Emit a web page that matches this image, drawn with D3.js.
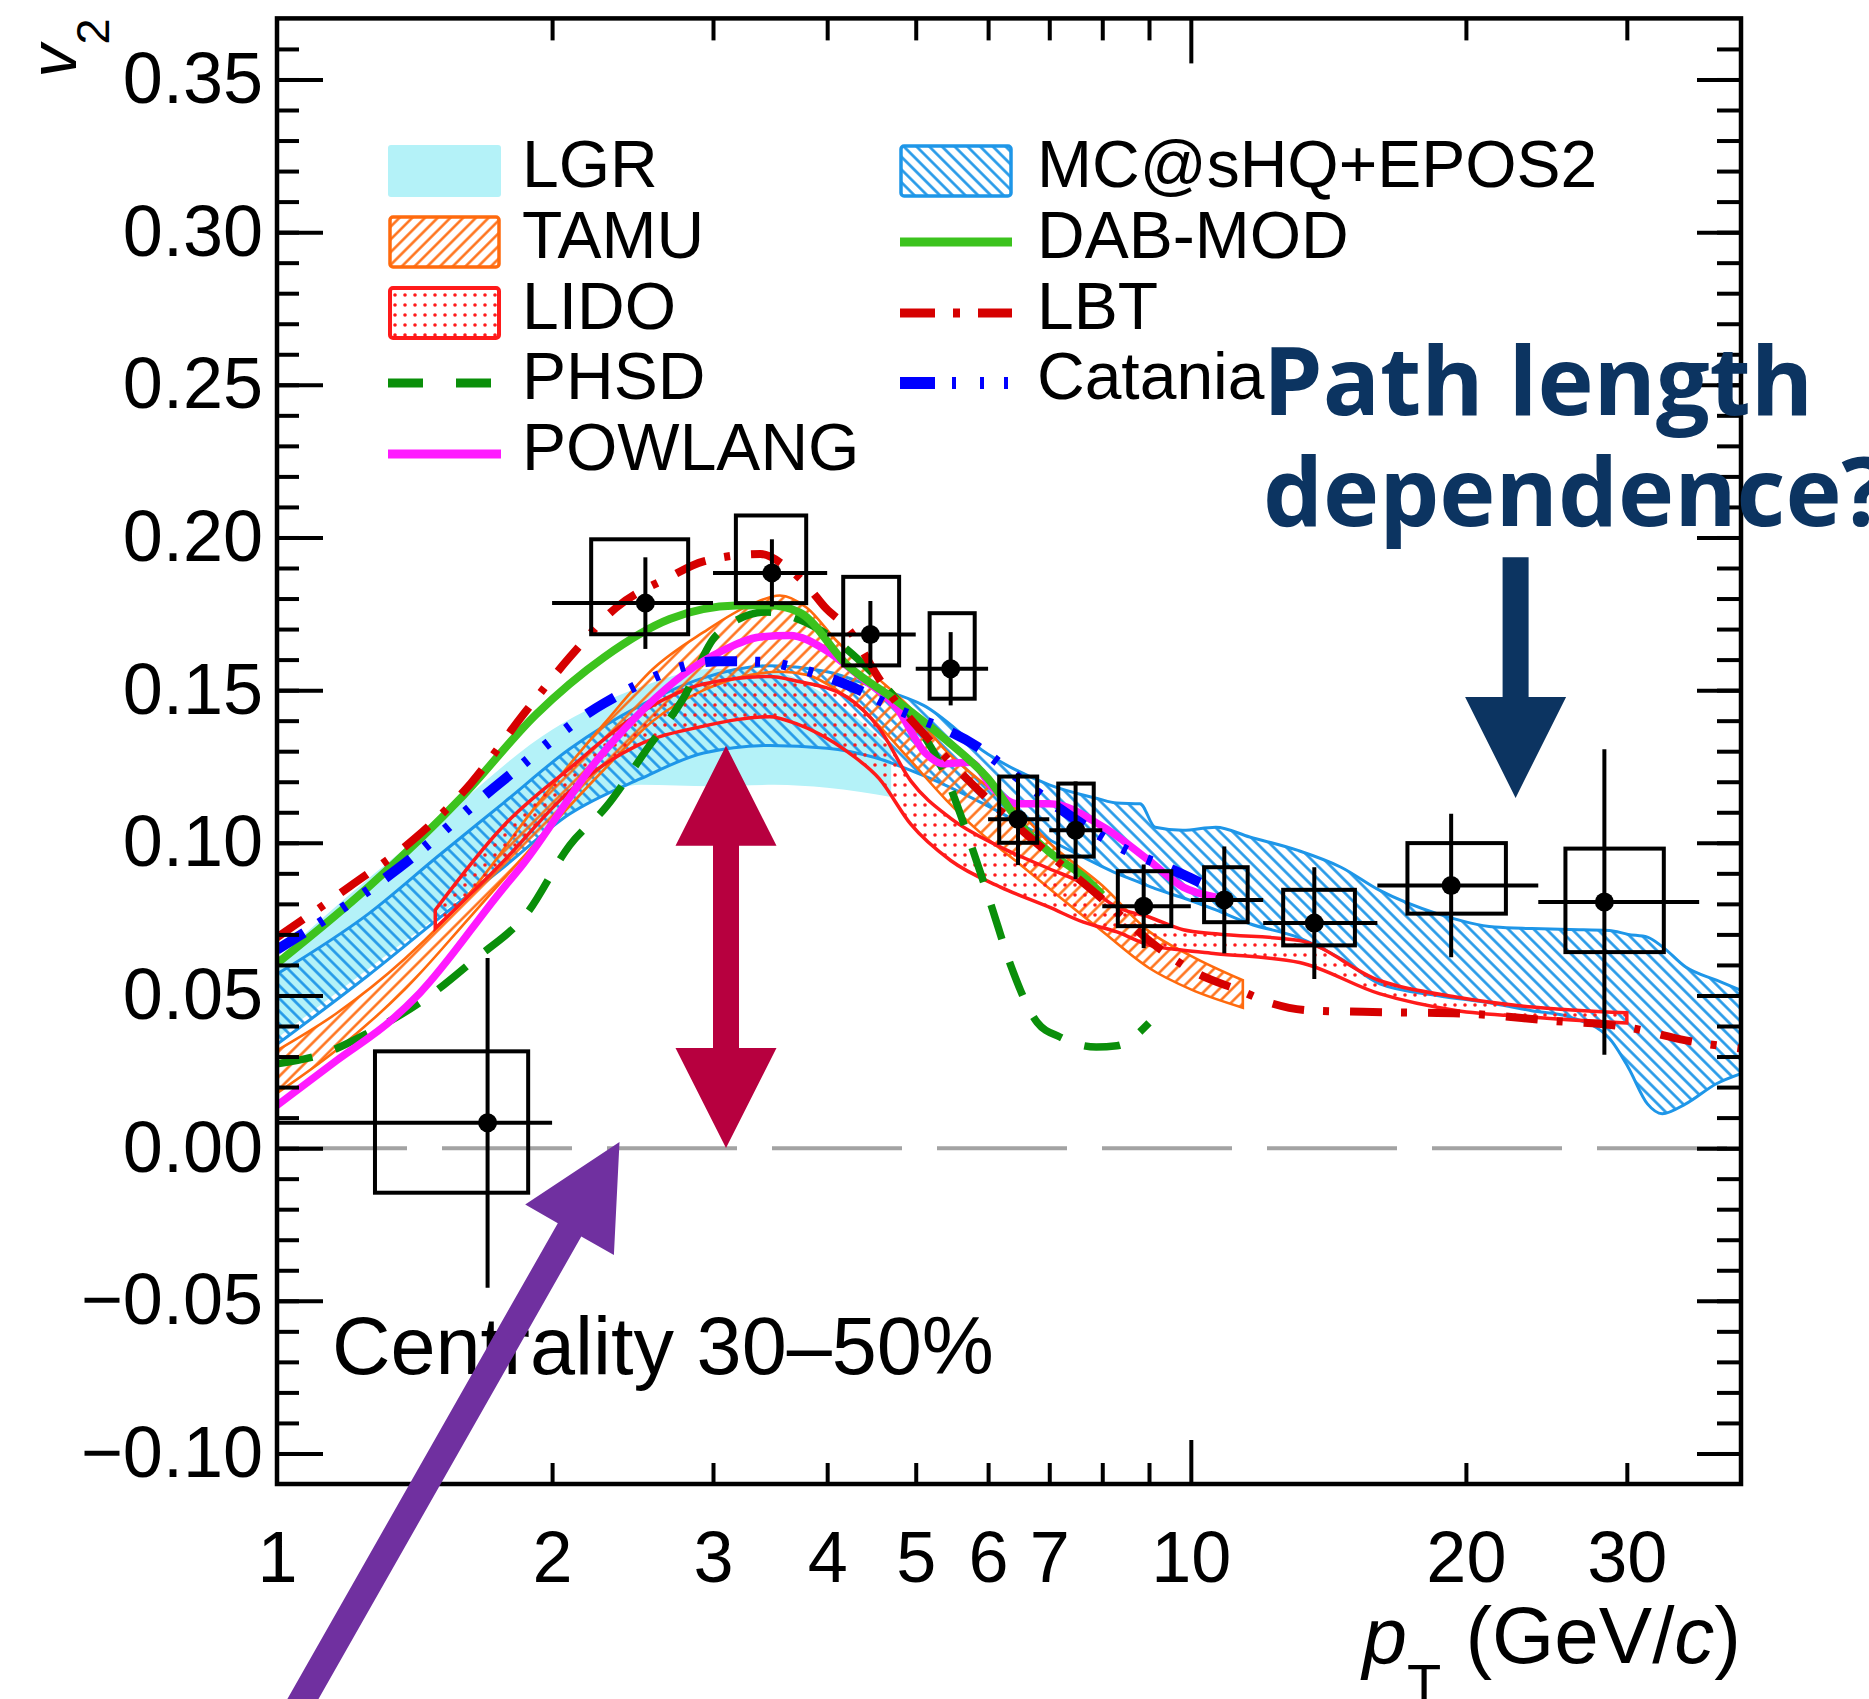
<!DOCTYPE html>
<html><head><meta charset="utf-8">
<script src="https://cdn.jsdelivr.net/npm/d3@7"></script>
<style>
html,body{margin:0;padding:0;background:#fff;}
svg{display:block;}
</style></head><body>
<svg id="chart" width="1869" height="1699"></svg>
<script>
// ---------------- DATA ----------------
const xTickLabels = [1, 2, 3, 4, 5, 6, 7, 10, 20, 30];
const xMinorTicks = [2, 3, 4, 5, 6, 7, 8, 9, 20, 30];
const xMajorTicks = [10];
const yTickLabels = [-0.10, -0.05, 0.00, 0.05, 0.10, 0.15, 0.20, 0.25, 0.30, 0.35];
const yMinorTicks = [-0.10,-0.09,-0.08,-0.07,-0.06,-0.05,-0.04,-0.03,-0.02,-0.01,0.00,0.01,0.02,0.03,0.04,0.05,0.06,0.07,0.08,0.09,0.10,0.11,0.12,0.13,0.14,0.15,0.16,0.17,0.18,0.19,0.20,0.21,0.22,0.23,0.24,0.25,0.26,0.27,0.28,0.29,0.30,0.31,0.32,0.33,0.34,0.35,0.36];

// measured D-meson v2 (30-50%)
const ptCenter = [1.70, 2.53, 3.48, 4.46, 5.46, 6.47, 7.48, 8.88, 10.88, 13.65, 19.27, 28.35];
const ptBinLo  = [1, 2, 3, 4, 5, 6, 7, 8, 10, 12, 16, 24];
const ptBinHi  = [2, 3, 4, 5, 6, 7, 8, 10, 12, 16, 24, 36];
const v2Value  = [0.0083, 0.1785, 0.1884, 0.1682, 0.1570, 0.1077, 0.1041, 0.0792, 0.0813, 0.0737, 0.0860, 0.0806];
const v2Stat   = [0.054, 0.015, 0.011, 0.011, 0.012, 0.015, 0.016, 0.0137, 0.0175, 0.0183, 0.0235, 0.050];
const sysXLo   = [1.28, 2.207, 3.178, 4.165, 5.178, 6.17, 7.16, 8.32, 10.34, 12.62, 17.26, 25.7];
const sysXHi   = [1.883, 2.818, 3.794, 4.795, 5.801, 6.79, 7.83, 9.52, 11.54, 15.12, 22.12, 32.93];
const sysLo    = [-0.0146, 0.1683, 0.1785, 0.1581, 0.1472, 0.1000, 0.0955, 0.0727, 0.0740, 0.0664, 0.0768, 0.0642];
const sysHi    = [0.0317, 0.1994, 0.2072, 0.1871, 0.1752, 0.1217, 0.1194, 0.0907, 0.0920, 0.0846, 0.0999, 0.0981];

// model bands
const lgrPt = [1.0, 1.2, 1.5, 2.0, 2.5, 3.0, 3.5, 4.0, 4.7];
const lgrLo = [0.036, 0.054, 0.076, 0.106, 0.119, 0.1185, 0.119, 0.118, 0.115];
const lgrHi = [0.062, 0.083, 0.107, 0.137, 0.151, 0.157, 0.156, 0.148, 0.131];

const mcPt = [1.0, 1.26, 1.5, 1.77, 2.09, 2.5, 2.93, 3.46, 4.0, 4.5, 5.1, 6.0, 7.0, 7.9, 8.3, 8.8, 9.14, 9.8, 10.65, 11.6, 13.1, 14.6, 16.1, 18.6, 21.5, 23.6, 26.0, 28.7, 30.1, 31.6, 32.8, 34.8, 37.6, 40.0];
const mcLo = [0.034, 0.0567, 0.075, 0.092, 0.1094, 0.121, 0.1294, 0.1319, 0.1310, 0.128, 0.122, 0.112, 0.101, 0.093, 0.090, 0.087, 0.085, 0.082, 0.078, 0.0735, 0.069, 0.062, 0.0538, 0.050, 0.0473, 0.045, 0.0429, 0.036, 0.0265, 0.0145, 0.0113, 0.0145, 0.0211, 0.0244];
const mcHi = [0.057, 0.0768, 0.0956, 0.1131, 0.1307, 0.145, 0.154, 0.158, 0.156, 0.151, 0.145, 0.129, 0.119, 0.1145, 0.113, 0.1128, 0.1051, 0.1041, 0.1051, 0.1019, 0.0975, 0.092, 0.0844, 0.0768, 0.0724, 0.0719, 0.0716, 0.0713, 0.0700, 0.0691, 0.066, 0.0593, 0.055, 0.0517];

const tamuPt = [1.0, 1.16, 1.38, 1.63, 1.92, 2.28, 2.58, 2.93, 3.3, 3.55, 3.8, 4.1, 4.5, 4.9, 5.4, 5.9, 6.5, 7.0, 8.0, 9.0, 10.0, 11.4];
const tamuLo = [0.018, 0.032, 0.052, 0.076, 0.100, 0.124, 0.140, 0.150, 0.155, 0.156, 0.155, 0.150, 0.140, 0.128, 0.114, 0.103, 0.093, 0.085, 0.071, 0.059, 0.052, 0.046];
const tamuHi = [0.032, 0.044, 0.062, 0.084, 0.112, 0.139, 0.157, 0.169, 0.178, 0.181, 0.177, 0.166, 0.155, 0.145, 0.130, 0.120, 0.110, 0.100, 0.086, 0.071, 0.063, 0.055];

const lidoPt = [1.49, 1.77, 2.09, 2.48, 2.93, 3.46, 3.7, 4.2, 4.56, 4.94, 5.46, 6.19, 7.0, 7.63, 8.3, 9.0, 9.81, 10.65, 13.15, 16.08, 19.5, 23.65, 30.0];
const lidoLo = [0.072, 0.094, 0.1169, 0.1319, 0.1382, 0.1413, 0.139, 0.130, 0.121, 0.106, 0.0942, 0.0855, 0.0789, 0.074, 0.0708, 0.0665, 0.0648, 0.0637, 0.0608, 0.0506, 0.0451, 0.0429, 0.0410];
const lidoHi = [0.078, 0.1056, 0.1244, 0.142, 0.152, 0.1545, 0.153, 0.1478, 0.1375, 0.1202, 0.108, 0.0986, 0.0915, 0.0866, 0.0789, 0.0757, 0.0715, 0.0702, 0.068, 0.0549, 0.0495, 0.0462, 0.0443];

// model curves
const phsdPt = [1.0, 1.124, 1.254, 1.47, 1.642, 1.876, 2.092, 2.294, 2.54, 2.78, 3.026, 3.43, 3.8, 4.49, 4.84, 5.38, 5.78, 6.04, 6.35, 6.79, 7.19, 7.88, 8.3, 9.0];
const phsdV  = [0.0276, 0.0309, 0.0375, 0.050, 0.0616, 0.0768, 0.0993, 0.1119, 0.1307, 0.147, 0.168, 0.1756, 0.172, 0.1554, 0.1444, 0.1225, 0.0972, 0.080, 0.060, 0.0412, 0.0364, 0.0331, 0.0335, 0.041];

const powPt = [1.0, 1.162, 1.34, 1.433, 1.753, 1.859, 2.237, 2.393, 2.927, 3.077, 3.378, 3.64, 3.99, 4.35, 4.76, 5.13, 5.36, 5.74, 6.07, 6.45, 7.0, 8.03, 9.0, 9.81, 10.65];
const powV  = [0.014, 0.0287, 0.0424, 0.0508, 0.0837, 0.093, 0.1269, 0.1369, 0.1595, 0.163, 0.1674, 0.1679, 0.163, 0.1543, 0.1444, 0.1292, 0.1259, 0.1264, 0.118, 0.1128, 0.1128, 0.1051, 0.0942, 0.0855, 0.0822];

const dabPt = [1.0, 1.26, 1.6, 1.92, 2.28, 2.69, 3.18, 3.46, 3.73, 4.21, 4.76, 5.38, 6.0, 6.6, 7.0, 7.69, 8.0];
const dabV  = [0.0605, 0.0856, 0.1156, 0.142, 0.1608, 0.1733, 0.1777, 0.1778, 0.1755, 0.1581, 0.1466, 0.134, 0.121, 0.104, 0.097, 0.0881, 0.083];

const lbtPt = [1.0, 1.2, 1.42, 1.63, 1.86, 2.09, 2.35, 2.69, 2.93, 3.38, 3.61, 3.80, 3.99, 4.2, 4.59, 5.34, 6.16, 7.01, 7.95, 9.16, 10.2, 11.3, 12.3, 13.5, 16.4, 20.1, 24.6, 30.0, 34.8, 40.0];
const lbtV  = [0.069, 0.0856, 0.1018, 0.1195, 0.142, 0.1607, 0.177, 0.1871, 0.1922, 0.1946, 0.1903, 0.1843, 0.1767, 0.1707, 0.1524, 0.1294, 0.111, 0.0961, 0.0823, 0.0662, 0.057, 0.0517, 0.0473, 0.0451, 0.0445, 0.044, 0.0418, 0.0396, 0.0353, 0.0326];

const catPt = [1.0, 1.36, 1.75, 2.28, 3.05, 3.43, 3.67, 4.30, 4.72, 5.85, 6.32, 7.2, 8.51, 9.41, 10.23];
const catV  = [0.065, 0.0918, 0.1194, 0.1457, 0.1595, 0.1592, 0.1575, 0.1505, 0.1444, 0.1313, 0.1237, 0.111, 0.0975, 0.092, 0.087];

// legend entries
const legendLeft  = ["LGR", "TAMU", "LIDO", "PHSD", "POWLANG"];
const legendRight = ["MC@sHQ+EPOS2", "DAB-MOD", "LBT", "Catania"];

// annotations (data coordinates)
const purpleArrow  = {tail: [0.98, -0.20], tip: [2.37, 0.002]};
const crimsonArrow = {pt: 3.1, lo: 0.0, hi: 0.1318};
const navyArrow    = {pt: 22.67, top: 0.1935, tip: 0.1147};
const noteLines = ["Path length", "dependence?"];

// ---------------- STYLE ----------------
const C = {
  mc: "#1e96e8", tamu: "#ff6a0d", lido: "#ff1a1a", lgr: "#b4f2f8",
  dab: "#3cc31e", phsd: "#0a8f0a", pow: "#ff1aff", lbt: "#d60000", cat: "#0000ff",
  purple: "#7030a0", crimson: "#b7003f", navy: "#0c3461"
};
const FONT = '"Liberation Sans", Arial, Helvetica, sans-serif';

// ---------------- SCALES ----------------
const x = d3.scaleLog().domain([1, 40]).range([277, 1741]);
const y = d3.scaleLinear().domain([-0.11, 0.37]).range([1484, 18.4]);
const X0 = x.range()[0], X1 = x.range()[1], Y0 = y.range()[1], Y1 = y.range()[0];

const svg = d3.select("#chart");
svg.append("rect").attr("width", 1869).attr("height", 1699).attr("fill", "#fff");
const defs = svg.append("defs");
defs.append("clipPath").attr("id", "plotClip").append("rect")
  .attr("x", X0).attr("y", Y0).attr("width", X1 - X0).attr("height", Y1 - Y0);

// patterns
const pMC = defs.append("pattern").attr("id", "hatchMC").attr("patternUnits", "userSpaceOnUse")
  .attr("width", 9).attr("height", 9).attr("patternTransform", "rotate(45)");
pMC.append("line").attr("x1", -1).attr("y1", 4.5).attr("x2", 10).attr("y2", 4.5)
  .attr("stroke", C.mc).attr("stroke-width", 2.6);
const pTA = defs.append("pattern").attr("id", "hatchTAMU").attr("patternUnits", "userSpaceOnUse")
  .attr("width", 9).attr("height", 9).attr("patternTransform", "rotate(-45)");
pTA.append("line").attr("x1", -1).attr("y1", 4.5).attr("x2", 10).attr("y2", 4.5)
  .attr("stroke", C.tamu).attr("stroke-width", 2.4);
const pLI = defs.append("pattern").attr("id", "dotsLIDO").attr("patternUnits", "userSpaceOnUse")
  .attr("width", 10).attr("height", 10);
pLI.append("circle").attr("cx", 5).attr("cy", 5).attr("r", 1.8).attr("fill", C.lido);

const plot = svg.append("g").attr("clip-path", "url(#plotClip)");

const rows3 = (pt, lo, hi) => pt.map((p, i) => ({x: p, lo: lo[i], hi: hi[i]}));
const rows2 = (pt, v) => pt.map((p, i) => ({x: p, v: v[i]}));
const area = d3.area().x(d => x(d.x)).y0(d => y(d.lo)).y1(d => y(d.hi)).curve(d3.curveMonotoneX);
const line = d3.line().x(d => x(d.x)).y(d => y(d.v)).curve(d3.curveMonotoneX);

// bands
plot.append("path").attr("d", area(rows3(lgrPt, lgrLo, lgrHi))).attr("fill", C.lgr);
plot.append("path").attr("d", area(rows3(mcPt, mcLo, mcHi))).attr("fill", "url(#hatchMC)")
  .attr("stroke", C.mc).attr("stroke-width", 3);
plot.append("path").attr("d", area(rows3(tamuPt, tamuLo, tamuHi))).attr("fill", "url(#hatchTAMU)")
  .attr("stroke", C.tamu).attr("stroke-width", 2.6);
plot.append("path").attr("d", area(rows3(lidoPt, lidoLo, lidoHi))).attr("fill", "url(#dotsLIDO)")
  .attr("stroke", C.lido).attr("stroke-width", 3.5);

// curves
const curves = [
  {pt: phsdPt, v: phsdV, c: C.phsd, w: 7.5, dash: "36,24"},
  {pt: powPt, v: powV, c: C.pow, w: 7.5, dash: null},
  {pt: dabPt, v: dabV, c: C.dab, w: 8, dash: null},
  {pt: catPt, v: catV, c: C.cat, w: 10, dash: "32,18,5,22,5,22,5,21"},
  {pt: lbtPt, v: lbtV, c: C.lbt, w: 8, dash: "32,19,6,21"}
];
curves.forEach(cv => {
  plot.append("path").attr("d", line(rows2(cv.pt, cv.v))).attr("fill", "none")
    .attr("stroke", cv.c).attr("stroke-width", cv.w).attr("stroke-dasharray", cv.dash);
});

// zero line
plot.append("line").attr("x1", X0).attr("x2", X1).attr("y1", y(0)).attr("y2", y(0))
  .attr("stroke", "#a3a3a3").attr("stroke-width", 4).attr("stroke-dasharray", "130,35");

// data
const dg = plot.append("g");
ptCenter.forEach((p, i) => {
  dg.append("rect").attr("x", x(sysXLo[i])).attr("y", y(sysHi[i]))
    .attr("width", x(sysXHi[i]) - x(sysXLo[i])).attr("height", y(sysLo[i]) - y(sysHi[i]))
    .attr("fill", "none").attr("stroke", "#000").attr("stroke-width", 4);
  dg.append("line").attr("x1", x(ptBinLo[i])).attr("x2", x(ptBinHi[i]))
    .attr("y1", y(v2Value[i])).attr("y2", y(v2Value[i])).attr("stroke", "#000").attr("stroke-width", 4);
  dg.append("line").attr("x1", x(p)).attr("x2", x(p))
    .attr("y1", y(v2Value[i] + v2Stat[i])).attr("y2", y(v2Value[i] - v2Stat[i]))
    .attr("stroke", "#000").attr("stroke-width", 4);
  dg.append("circle").attr("cx", x(p)).attr("cy", y(v2Value[i])).attr("r", 9.5).attr("fill", "#000");
});

// ---------------- AXES ----------------
const clean = g => { g.select(".domain").remove(); g.selectAll(".tick line").attr("stroke", "#000").attr("stroke-width", 4); };
svg.append("g").attr("transform", `translate(0,${Y1})`).call(d3.axisBottom(x).tickValues(xMinorTicks).tickSize(-21).tickFormat("")).call(clean);
svg.append("g").attr("transform", `translate(0,${Y1})`).call(d3.axisBottom(x).tickValues(xMajorTicks).tickSize(-44).tickFormat("")).call(clean);
svg.append("g").attr("transform", `translate(0,${Y0})`).call(d3.axisTop(x).tickValues(xMinorTicks).tickSize(-22).tickFormat("")).call(clean);
svg.append("g").attr("transform", `translate(0,${Y0})`).call(d3.axisTop(x).tickValues(xMajorTicks).tickSize(-45).tickFormat("")).call(clean);
svg.append("g").attr("transform", `translate(${X0},0)`).call(d3.axisLeft(y).tickValues(yMinorTicks).tickSize(-22).tickFormat("")).call(clean);
svg.append("g").attr("transform", `translate(${X0},0)`).call(d3.axisLeft(y).tickValues(yTickLabels).tickSize(-46).tickFormat("")).call(clean);
svg.append("g").attr("transform", `translate(${X1},0)`).call(d3.axisRight(y).tickValues(yMinorTicks).tickSize(-24).tickFormat("")).call(clean);
svg.append("g").attr("transform", `translate(${X1},0)`).call(d3.axisRight(y).tickValues(yTickLabels).tickSize(-44).tickFormat("")).call(clean);

// tick labels
const xl = svg.append("g").attr("transform", `translate(0,${Y1})`)
  .call(d3.axisBottom(x).tickValues(xTickLabels).tickSize(0).tickPadding(47).tickFormat(d3.format("d")));
xl.select(".domain").remove();
xl.attr("font-size", 72).attr("font-family", FONT);
xl.selectAll("text").attr("fill", "#000");
const yl = svg.append("g").attr("transform", `translate(${X0},0)`)
  .call(d3.axisLeft(y).tickValues(yTickLabels).tickSize(0).tickPadding(14).tickFormat(d3.format(".2f")));
yl.select(".domain").remove();
yl.attr("font-size", 72).attr("font-family", FONT);
yl.selectAll("text").attr("fill", "#000");

// frame
svg.append("rect").attr("x", X0).attr("y", Y0).attr("width", X1 - X0).attr("height", Y1 - Y0)
  .attr("fill", "none").attr("stroke", "#000").attr("stroke-width", 4.5);

// axis titles
const xt = svg.append("text").attr("x", X1).attr("y", 1663).attr("text-anchor", "end")
  .attr("font-family", FONT).attr("font-size", 80).attr("fill", "#000");
xt.append("tspan").attr("font-style", "italic").text("p");
xt.append("tspan").attr("font-size", 56).attr("dy", 40).text("T");
xt.append("tspan").attr("dy", -40).attr("dx", 2).text(" (GeV/");
xt.append("tspan").attr("font-style", "italic").text("c");
xt.append("tspan").text(")");

const yt = svg.append("text").attr("transform", `translate(76,${Y0}) rotate(-90)`).attr("text-anchor", "end")
  .attr("font-family", FONT).attr("font-size", 66).attr("fill", "#000");
yt.append("tspan").attr("font-style", "italic").text("v");
yt.append("tspan").attr("font-size", 47).attr("dy", 33).text("2");

svg.append("text").attr("x", 332).attr("y", 1374).attr("font-family", FONT).attr("font-size", 81)
  .attr("fill", "#000").text("Centrality 30\u201350%");

// ---------------- LEGEND ----------------
const rowY = [171, 242, 313, 383, 454];
const lg = svg.append("g");
lg.append("rect").attr("x", 388).attr("y", rowY[0] - 26).attr("width", 113).attr("height", 52).attr("rx", 3).attr("fill", C.lgr);
lg.append("rect").attr("x", 390).attr("y", rowY[1] - 25).attr("width", 109).attr("height", 50).attr("rx", 3)
  .attr("fill", "url(#hatchTAMU)").attr("stroke", C.tamu).attr("stroke-width", 3.5);
lg.append("rect").attr("x", 390).attr("y", rowY[2] - 25).attr("width", 109).attr("height", 50).attr("rx", 3)
  .attr("fill", "url(#dotsLIDO)").attr("stroke", C.lido).attr("stroke-width", 4);
lg.append("line").attr("x1", 388).attr("x2", 501).attr("y1", rowY[3]).attr("y2", rowY[3])
  .attr("stroke", C.phsd).attr("stroke-width", 9).attr("stroke-dasharray", "35,33");
lg.append("line").attr("x1", 388).attr("x2", 501).attr("y1", rowY[4]).attr("y2", rowY[4])
  .attr("stroke", C.pow).attr("stroke-width", 9);
lg.append("rect").attr("x", 901).attr("y", rowY[0] - 25).attr("width", 110).attr("height", 50).attr("rx", 3)
  .attr("fill", "url(#hatchMC)").attr("stroke", C.mc).attr("stroke-width", 3.5);
lg.append("line").attr("x1", 900).attr("x2", 1012).attr("y1", rowY[1]).attr("y2", rowY[1])
  .attr("stroke", C.dab).attr("stroke-width", 9);
lg.append("line").attr("x1", 900).attr("x2", 1012).attr("y1", rowY[2]).attr("y2", rowY[2])
  .attr("stroke", C.lbt).attr("stroke-width", 9).attr("stroke-dasharray", "35,18,7,18");
lg.append("line").attr("x1", 900).attr("x2", 1012).attr("y1", rowY[3]).attr("y2", rowY[3])
  .attr("stroke", C.cat).attr("stroke-width", 12).attr("stroke-dasharray", "35,17,4,24,4,20,4,20");
legendLeft.forEach((t, i) => lg.append("text").attr("x", 522).attr("y", rowY[i] + 16)
  .attr("font-family", FONT).attr("font-size", 66).attr("fill", "#000").text(t));
legendRight.forEach((t, i) => lg.append("text").attr("x", 1037).attr("y", rowY[i] + 16)
  .attr("font-family", FONT).attr("font-size", 66).attr("fill", "#000").text(t));

// ---------------- ANNOTATIONS ----------------
function arrowPath(x0, y0, x1, y1, sw, hw, hl, dbl) {
  const dx = x1 - x0, dy = y1 - y0, L = Math.hypot(dx, dy), ux = dx / L, uy = dy / L, px = -uy, py = ux;
  const P = (s, t) => [x0 + ux * s + px * t, y0 + uy * s + py * t];
  const pts = dbl
    ? [P(0, 0), P(hl, hw / 2), P(hl, sw / 2), P(L - hl, sw / 2), P(L - hl, hw / 2), P(L, 0), P(L - hl, -hw / 2), P(L - hl, -sw / 2), P(hl, -sw / 2), P(hl, -hw / 2)]
    : [P(0, sw / 2), P(L - hl, sw / 2), P(L - hl, hw / 2), P(L, 0), P(L - hl, -hw / 2), P(L - hl, -sw / 2), P(0, -sw / 2)];
  return "M" + pts.map(p => p[0].toFixed(1) + "," + p[1].toFixed(1)).join("L") + "Z";
}
const ann = svg.append("g");
ann.append("path").attr("fill", C.crimson)
  .attr("d", arrowPath(x(crimsonArrow.pt), y(crimsonArrow.lo), x(crimsonArrow.pt), y(crimsonArrow.hi), 26, 101, 100, true));
ann.append("path").attr("fill", C.navy)
  .attr("d", arrowPath(x(navyArrow.pt), y(navyArrow.top), x(navyArrow.pt), y(navyArrow.tip), 26, 101, 101, false));
ann.append("path").attr("fill", C.purple)
  .attr("d", arrowPath(x(purpleArrow.tail[0]), y(purpleArrow.tail[1]), x(purpleArrow.tip[0]), y(purpleArrow.tip[1]), 27, 102, 101, false));

noteLines.forEach((t, i) => ann.append("text").attr("x", 1263).attr("y", 415 + i * 111)
  .attr("font-family", '"Open Sans", "Noto Sans", sans-serif').attr("font-weight", 700)
  .attr("font-size", 95).attr("fill", C.navy).text(t));
</script>
</body></html>
